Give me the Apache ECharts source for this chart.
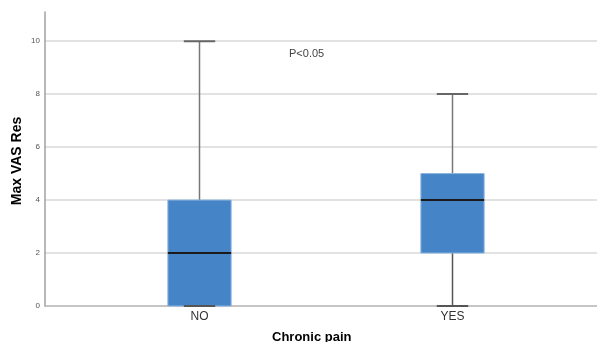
<!DOCTYPE html>
<html><head><meta charset="utf-8">
<script src="https://cdn.jsdelivr.net/npm/echarts@6/dist/echarts.min.js"></script>
<style>html,body{margin:0;padding:0;background:#fff}#c{width:597px;height:342px}</style>
</head><body><div id="c"></div>
<script>
const categories = ['NO', 'YES'];
const whiskerLow = [0, 0];
const q1 = [0, 2];
const median = [2, 4];
const q3 = [4, 5];
const whiskerHigh = [10, 8];
const yTicks = [0, 2, 4, 6, 8, 10];
const yTitle = 'Max VAS Res';
const xTitle = 'Chronic pain';
const note = 'P<0.05';

const data = categories.map((c, i) => [i, whiskerLow[i], q1[i], median[i], q3[i], whiskerHigh[i]]);
const chart = echarts.init(document.getElementById('c'));
const FONT = '"Liberation Sans", Arial, sans-serif';
chart.setOption({
  animation: false,
  grid: [
    {left: 45, right: 0, top: 12, bottom: 36, outerBoundsMode: 'none', containLabel: false},
    {left: 73, right: 18, top: 12, bottom: 36, outerBoundsMode: 'none', containLabel: false}
  ],
  xAxis: [
    {gridIndex: 0, type: 'value', min: 0, max: 1, axisLabel: {show: false}, axisTick: {show: false}, splitLine: {show: false},
     axisLine: {show: true, lineStyle: {color: '#b3b3b3', width: 1.5}}},
    {gridIndex: 1, type: 'category', data: categories, axisLine: {show: false}, axisTick: {show: false},
     axisLabel: {color: '#333', fontSize: 12, fontFamily: FONT, margin: 5}}
  ],
  yAxis: [
    {gridIndex: 0, type: 'value', min: 0, max: 11.1, interval: 2,
     axisLine: {show: true, lineStyle: {color: '#a0a0a0', width: 1.5}}, axisTick: {show: false},
     axisLabel: {color: '#555', fontSize: 8, fontFamily: FONT, margin: 5,
       formatter: v => yTicks.includes(v) ? String(v) : ''},
     splitLine: {show: true, showMinLine: false, showMaxLine: false, lineStyle: {color: '#d9d9d9', width: 1.5}}},
    {gridIndex: 1, type: 'value', min: 0, max: 11.1, interval: 2, show: false}
  ],
  graphic: [
    {type: 'text', x: 17, y: 161, rotation: Math.PI / 2,
     style: {text: yTitle, font: 'bold 14px ' + FONT, fill: '#000', align: 'center', verticalAlign: 'middle'}},
    {type: 'text', style: {text: xTitle, font: 'bold 13px ' + FONT, fill: '#000'}, top: 331, left: 272},
    {type: 'text', style: {text: note, font: '11px ' + FONT, fill: '#444'}, left: 289, top: 48}
  ],
  series: [{
    type: 'custom', xAxisIndex: 1, yAxisIndex: 1, data: data,
    encode: {x: 0, y: [1, 2, 3, 4, 5]},
    renderItem: function (params, api) {
      const x = api.value(0);
      const pLow = api.coord([x, api.value(1)]);
      const pQ1 = api.coord([x, api.value(2)]);
      const pMed = api.coord([x, api.value(3)]);
      const pQ3 = api.coord([x, api.value(4)]);
      const pHigh = api.coord([x, api.value(5)]);
      const band = api.size([1, 0])[0];
      const bw = band * 0.25;
      const cw = band * 0.062;
      const cx = pLow[0];
      const kids = [
        {type: 'line', shape: {x1: cx, y1: pHigh[1], x2: cx, y2: pQ3[1]}, style: {stroke: '#777', lineWidth: 1.5}},
        {type: 'line', shape: {x1: cx, y1: pLow[1], x2: cx, y2: pQ1[1]}, style: {stroke: '#555', lineWidth: 1.5}},
        {type: 'rect', shape: {x: cx - bw / 2, y: pQ3[1], width: bw, height: pQ1[1] - pQ3[1]},
          style: {fill: '#4585c7', stroke: '#8db3e2', lineWidth: 1}},
        {type: 'line', shape: {x1: cx - bw / 2, y1: pMed[1], x2: cx + bw / 2, y2: pMed[1]}, style: {stroke: '#1a1a1a', lineWidth: 2}},
        {type: 'line', shape: {x1: cx - cw, y1: pHigh[1], x2: cx + cw, y2: pHigh[1]}, style: {stroke: '#666', lineWidth: 2}},
        {type: 'line', shape: {x1: cx - cw, y1: pLow[1], x2: cx + cw, y2: pLow[1]}, style: {stroke: '#555', lineWidth: 2}}
      ];
      return {type: 'group', children: kids};
    }
  }]
});
</script></body></html>
